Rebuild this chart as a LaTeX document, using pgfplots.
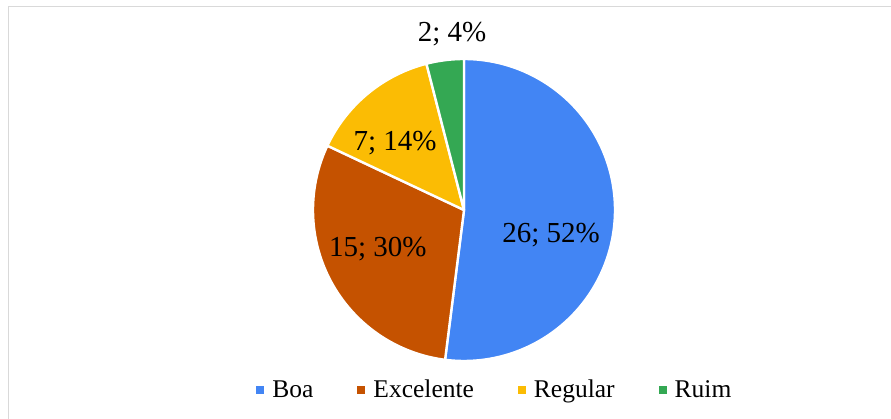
\documentclass[border=0pt]{standalone}
\usepackage{fontspec}
\setmainfont{Liberation Serif}
\usepackage{pgfplots}
\pgfplotsset{compat=1.18}
\definecolor{boa}{RGB}{66,133,244}
\definecolor{exc}{RGB}{197,82,0}
\definecolor{reg}{RGB}{251,188,4}
\definecolor{ruim}{RGB}{52,168,83}
\definecolor{frame}{RGB}{217,217,217}
% data: Boa, Excelente, Regular, Ruim
\def\vA{26}\def\vB{15}\def\vC{7}\def\vD{2}
\pgfmathsetmacro\tot{\vA+\vB+\vC+\vD}
\pgfmathsetmacro\aA{90}
\pgfmathsetmacro\aB{\aA-360*\vA/\tot}
\pgfmathsetmacro\aC{\aB-360*\vB/\tot}
\pgfmathsetmacro\aD{\aC-360*\vC/\tot}
\pgfmathsetmacro\aE{\aD-360*\vD/\tot}
\begin{document}
\begin{tikzpicture}
\useasboundingbox (0,0) rectangle (891pt,419pt);
\draw[frame, line width=1.5pt] (8.7pt,-2pt) -- (8.7pt,412.5pt) -- (893pt,412.5pt);
\begin{axis}[
  at={(464pt,209pt)}, anchor=center,
  scale only axis, width=302pt, height=302pt,
  xmin=-1, xmax=1, ymin=-1, ymax=1,
  hide axis, clip=false,
  legend columns=4,
  legend image code/.code={\path[#1, draw=none] (0pt,-4pt) rectangle (8pt,4pt);},
  legend style={at={(0.6055,-0.095)}, anchor=center, draw=none, fill=none,
    font=\fontsize{25.5}{29}\selectfont,
    nodes={inner xsep=4pt},
    cells={anchor=west},
    /tikz/every odd column/.append style={column sep=4pt},
    /tikz/every even column/.append style={column sep=40pt}},
]
\addplot[fill=boa, draw=white, line width=2.4pt, line join=round, domain=\aB:\aA, samples=150, variable=\t, forget plot] ({cos(\t)},{sin(\t)}) -- (axis cs:0,0) -- cycle;
\addplot[fill=exc, draw=white, line width=2.4pt, line join=round, domain=\aC:\aB, samples=100, variable=\t, forget plot] ({cos(\t)},{sin(\t)}) -- (axis cs:0,0) -- cycle;
\addplot[fill=reg, draw=white, line width=2.4pt, line join=round, domain=\aD:\aC, samples=60, variable=\t, forget plot] ({cos(\t)},{sin(\t)}) -- (axis cs:0,0) -- cycle;
\addplot[fill=ruim, draw=white, line width=2.4pt, line join=round, domain=\aE:\aD, samples=30, variable=\t, forget plot] ({cos(\t)},{sin(\t)}) -- (axis cs:0,0) -- cycle;
\addlegendimage{fill=boa}\addlegendentry{Boa}
\addlegendimage{fill=exc}\addlegendentry{Excelente}
\addlegendimage{fill=reg}\addlegendentry{Regular}
\addlegendimage{fill=ruim}\addlegendentry{Ruim}
\begin{scope}[every node/.style={font=\fontsize{29}{32}\selectfont, anchor=base, inner sep=0pt}]
\node at (axis cs:0.576,-0.212) {26; 52\%};
\node at (axis cs:-0.570,-0.311) {15; 30\%};
\node at (axis cs:-0.457,0.397) {7; 14\%};
\node at (axis cs:-0.079,1.113) {2; 4\%};
\end{scope}
\end{axis}
\end{tikzpicture}
\end{document}
